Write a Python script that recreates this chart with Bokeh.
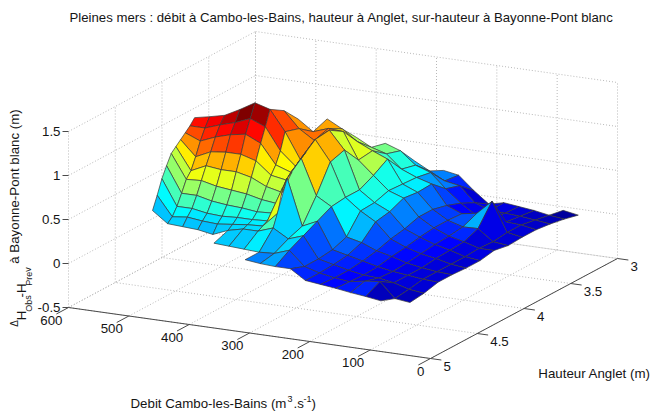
from bokeh.plotting import figure
from bokeh.models import ColumnDataSource, Range1d
from bokeh.core.properties import value
from bokeh.embed import file_html
from bokeh.resources import INLINE

title = "Pleines mers : débit à Cambo-les-Bains, hauteur à Anglet, sur-hauteur à Bayonne-Pont blanc"
debit_ticks = [0, 100, 200, 300, 400, 500, 600]
hauteur_ticks = [3, 3.5, 4, 4.5, 5]
z_ticks = [-0.5, 0, 0.5, 1, 1.5]
z_labels = ["-0.5", "0", "0.5", "1", "1.5"]

debit = [515, 490, 465, 440, 415, 390, 365, 340, 315, 290, 265, 240, 215, 190, 165, 140, 115, 90, 65]
hauteur = [3.0, 3.15, 3.3, 3.45, 3.6, 3.75, 3.9, 4.05, 4.2, 4.25, 4.3, 4.35, 4.4, 4.45, 4.5, 4.55, 4.6, 4.65, 4.8, 4.95]
N = None
# one list per debit value, hauteur ascending
by_debit = [
 [N]*8 + [1.285,1.22,1.17,1.12,1.07,1.02,.91,.79,.63,.485] + [N,N],
 [N]*8 + [1.32,1.22,1.10,.95,.82,.75,.62,.50,.41,.36] + [N,N],
 [N]*8 + [1.36,1.28,1.17,1.03,.90,.76,.62,.50,.43,.35] + [N,N],
 [N]*8 + [1.45,1.33,1.22,1.05,.88,.72,.58,.47,.41,.34] + [N,N],
 [N]*8 + [1.55,1.40,1.25,1.05,.88,.70,.56,.46,.40,.31] + [N,N],
 [N]*6 + [1.22,1.40,1.50,1.33,1.17,1.00,.84,.68,.55,.47,.42,.38,.32,N],
 [N]*5 + [1.16,1.10,1.22,1.27,1.08,.95,.86,.76,.64,.53,.47,.44,.42,.31,N],
 [N]*4 + [.89,1.07,1.16,1.11,.98,.93,.89,.83,.72,.62,.54,.48,.45,.42,.30,N],
 [N]*3 + [.76,.80,.95,1.15,1.25,1.23,1.18,1.14,1.10,1.05,1.0,.96,.88,.62,.48,.29,.29],
 [N]*2 + [.5,.7,.75,.87,.85,1.05,1.0,.9,.8,.70,.62,.52,.44,.42,.40,.38,.30,.27],
 [N]   + [.33,.41,.56,.6,.8,.7,.62,.62,.62,.6,.6,.57,.55,.52,.49,.47,.44,.36,.26],
 [N]   + [.30,.32,.50,.53,.54,.55,.5,.49,.4,.33,.28,.25,.23,.22,.2,.2,.2,.2,.26],
 [N]   + [.15,.29,.34,.48,.47,.49,.42,.39,.3,.27,.24,.22,.2,.18,.17,.16,.16,.15,.15],
 [N]   + [.02,.12,.20,.26,.30,.3,.25,.22,.2,.18,.17,.16,.15,.14,.13,.13,.12,.12,.13],
 [N]   + [.06,.06,.09,.19,.20,.20,.18,.15,.14,.13,.13,.12,.11,.10,.10,.09,.09,.10,.11],
 [N]   + [.04,.05,.07,.22,.15,.13,.12,.10,.09,.08,.08,.08,.08,.07,.08,.08,.08,.13,.085],
 [N]   + [.02,.04,.06,.38,.155,.09,.08,.07,.06,.05,.05,.05,.05,.05,.05,.05,.05,.15,.065],
 [-.04,-.01,.02,.05,.05,.03,.04,.03,.03,.03,.03,.03,.03,.03,.03,.03,.02,0,-.02,.04],
 [-.07,-.03,0,.02,.02,.01,.04,.01,.01,.015,.02,.02,.025,.03,.02,.02,.01,-.02,-.04,N],
]
surhauteur = [list(r) for r in zip(*by_debit)]
# hauteur rows that carry a mesh line from the eighth debit column on
coarse_rows = [0, 1, 2, 3, 4, 5, 6, 7, 8, 11, 14, 17, 18, 19]
fine_rows = list(range(len(hauteur)))
FINE_COLUMNS = 8
CMIN, CMAX = -0.12, 1.55
GRID = "#b8b8b8"
AXIS = "#4a4a4a"
INK = "#151515"
FONT = value("Liberation Sans")


def proj(x, y, z):
    return (430 - 0.6033 * x + 93.5 * (5 - y),
            358 - 0.085 * x - 50 * (5 - y) - 88 * (z + 0.5))


def jet(t):
    t = max(0.0, min(1.0, t))
    def ch(c):
        return max(0.0, min(1.0, 1.5 - abs(4 * t - c)))
    r, g, b = ch(3), ch(2), ch(1)
    return "#%02x%02x%02x" % (int(r * 255), int(g * 255), int(b * 255))


p = figure(width=652, height=414, x_range=Range1d(0, 652), y_range=Range1d(414, 0),
           x_axis_type=None, y_axis_type=None, toolbar_location=None,
           output_backend="svg", min_border=0, outline_line_color=None)
p.xgrid.visible = False
p.ygrid.visible = False

gx, gy = [], []


def seg(xs, ys, a, b):
    xs.append([a[0], b[0]])
    ys.append([a[1], b[1]])


for d in debit_ticks:
    seg(gx, gy, proj(d, 5, -0.5), proj(d, 3, -0.5))
    seg(gx, gy, proj(d, 3, -0.5), proj(d, 3, 1.5))
for h in hauteur_ticks:
    seg(gx, gy, proj(0, h, -0.5), proj(600, h, -0.5))
    seg(gx, gy, proj(600, h, -0.5), proj(600, h, 1.5))
for z in z_ticks:
    seg(gx, gy, proj(600, 5, z), proj(600, 3, z))
    seg(gx, gy, proj(600, 3, z), proj(0, 3, z))
p.multi_line(gx, gy, line_color=GRID, line_width=1, line_dash="1 2")

ax, ay = [], []
seg(ax, ay, proj(600, 5, -0.5), proj(0, 5, -0.5))
seg(ax, ay, proj(0, 5, -0.5), proj(0, 3, -0.5))
for d in debit_ticks:
    seg(ax, ay, proj(d, 5, -0.5), proj(d, 5.13, -0.5))
for h in hauteur_ticks:
    seg(ax, ay, proj(0, h, -0.5), proj(-18, h, -0.5))
for z in z_ticks:
    a = proj(600, 5, z)
    seg(ax, ay, a, (a[0] - 6, a[1]))
p.multi_line(ax, ay, line_color=AXIS, line_width=1)

faces = []
for k in range(len(debit) - 1):
    rows = fine_rows if k < FINE_COLUMNS else coarse_rows
    for j, j2 in zip(rows[:-1], rows[1:]):
        c = [surhauteur[j][k], surhauteur[j][k + 1], surhauteur[j2][k + 1], surhauteur[j2][k]]
        if any(v is None for v in c):
            continue
        idx = [(k, j), (k + 1, j), (k + 1, j2), (k, j2)]
        pts = [proj(debit[a], hauteur[b], surhauteur[b][a]) for a, b in idx]
        depth = sum(177 * debit[a] / 600 + 352 * (5 - hauteur[b]) / 2 - 25 * (surhauteur[b][a] + .5)
                    for a, b in idx) / 4
        col = jet((surhauteur[j][k + 1] - CMIN) / (CMAX - CMIN))
        faces.append((depth, [q[0] for q in pts], [q[1] for q in pts], col))
faces.sort(key=lambda f: -f[0])
src = ColumnDataSource(dict(xs=[f[1] for f in faces], ys=[f[2] for f in faces], c=[f[3] for f in faces]))
p.patches("xs", "ys", source=src, fill_color="c", line_color="#383838", line_width=0.7)


def txt(x, y, s, size=13.3, align="center", angle=0.0):
    p.text([x], [y], text=[s], text_font=FONT, text_font_size=f"{size}px", text_color=INK,
           text_align=align, text_baseline="middle", angle=angle)


txt(341, 17, title, size=13.2)
for d in debit_ticks:
    a = proj(d, 5, -0.5)
    txt(a[0] - 6, a[1] + 12.5, str(d), align="right")
for h in hauteur_ticks:
    a = proj(0, h, -0.5)
    txt(a[0] + 13, a[1] + 8, f"{h:g}", align="left")
for z, s in zip(z_ticks, z_labels):
    a = proj(600, 5, z)
    txt(a[0] - 8, a[1], s, align="right")

txt(594, 373, "Hauteur Anglet (m)")
txt(130, 403, "Debit Cambo-les-Bains (m", align="left")
txt(287, 398, "3", size=9, align="left")
txt(293, 403, ".s", align="left")
txt(303, 398, "-1", size=9, align="left")
txt(311, 403, ")", align="left")

V = 1.5708
txt(14, 186, "à Bayonne-Pont blanc (m)", angle=V)
txt(14, 323, "Δ", size=10, angle=V)
txt(21, 315, "H", angle=V)
txt(28, 303, "Obs", size=9, angle=V)
txt(21, 290, "-H", angle=V)
txt(28, 276, "Prev", size=9, angle=V)

open("out.html", "w").write(file_html(p, INLINE))
